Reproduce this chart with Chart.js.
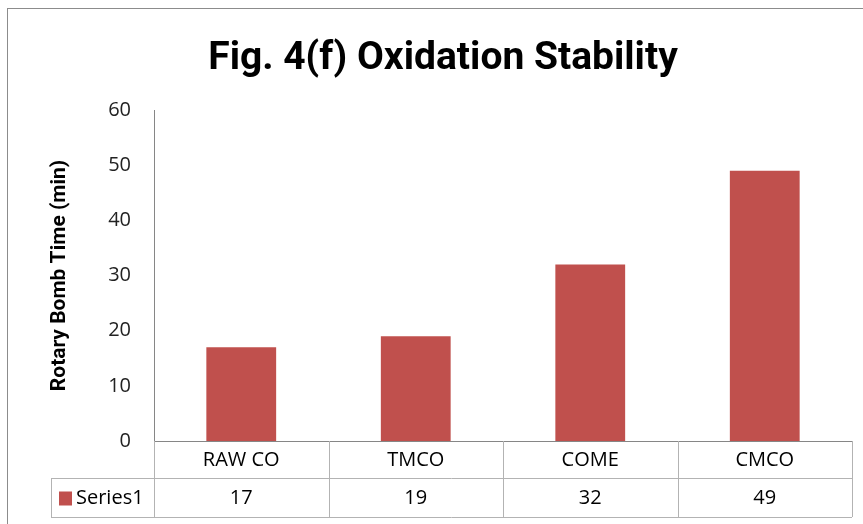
<!DOCTYPE html>
<html>
<head>
<meta charset="utf-8">
<script src="https://cdn.jsdelivr.net/npm/chart.js@4/dist/chart.umd.min.js"></script>
<style>
  html, body { margin: 0; padding: 0; background: #fff; overflow: hidden; }
  #frame { position: absolute; left: 7px; top: 8px; width: 880px; height: 540px; border: 1px solid #8c8c8c; }
  #wrap { position: absolute; left: 0; top: 0; width: 863px; height: 524px; }
</style>
</head>
<body>
<div id="frame"></div>
<div id="wrap"><canvas id="grafico"></canvas></div>
<script>
const categorias = ['RAW CO', 'TMCO', 'COME', 'CMCO'];
const valores = [17, 19, 32, 49];
const nomeSerie = 'Series1';
const ticksY = [0, 10, 20, 30, 40, 50, 60];
const titulo = 'Fig. 4(f) Oxidation Stability';

const corBarra = '#C0504D';
const fonte = "'Open Sans', sans-serif";

// título centrado na moldura inteira (não só na área do gráfico)
const tituloPlugin = {
    id: 'tituloFig',
    afterDraw(chart) {
        const ctx = chart.ctx;
        ctx.save();
        ctx.fillStyle = '#000';
        ctx.font = "bold 39px 'Roboto', sans-serif";
        ctx.textAlign = 'center';
        ctx.textBaseline = 'alphabetic';
        ctx.fillText(titulo, 443, 69);
        ctx.restore();
    }
};

// tabela de dados abaixo do eixo x (categorias + valores + legenda)
const tabelaPlugin = {
    id: 'tabelaDados',
    afterDraw(chart) {
        const ctx = chart.ctx;
        const x = chart.scales.x;
        const area = chart.chartArea;
        const n = categorias.length;
        const passo = (area.right - area.left) / n;
        const y0 = area.bottom;
        const y1 = y0 + 37;
        const y2 = y0 + 76;
        const esq = 51;

        ctx.save();
        ctx.strokeStyle = '#b3b3b3';
        ctx.lineWidth = 1;
        ctx.beginPath();
        // linhas horizontais
        ctx.moveTo(esq, y1 + 0.5); ctx.lineTo(area.right, y1 + 0.5);
        ctx.moveTo(esq, y2 + 0.5); ctx.lineTo(area.right, y2 + 0.5);
        // verticais
        for (let i = 0; i <= n; i++) {
            const px = Math.round(area.left + passo * i) + 0.5;
            ctx.moveTo(px, y0); ctx.lineTo(px, y2);
        }
        ctx.moveTo(esq + 0.5, y1); ctx.lineTo(esq + 0.5, y2);
        ctx.stroke();

        ctx.fillStyle = '#000';
        ctx.font = '20px ' + fonte;
        ctx.textAlign = 'center';
        ctx.textBaseline = 'middle';
        categorias.forEach((c, i) => {
            const cx = x.getPixelForValue(i);
            ctx.fillText(c, cx, (y0 + y1) / 2 + 1);
            ctx.fillText(String(valores[i]), cx, (y1 + y2) / 2 + 1);
        });

        // legenda
        ctx.fillStyle = corBarra;
        ctx.fillRect(59, (y1 + y2) / 2 - 6, 13, 14);
        ctx.fillStyle = '#000';
        ctx.textAlign = 'left';
        ctx.fillText(nomeSerie, 76, (y1 + y2) / 2 + 1);
        ctx.restore();
    }
};

new Chart(document.getElementById('grafico'), {
    type: 'bar',
    data: {
        labels: categorias,
        datasets: [{ label: nomeSerie, data: valores, backgroundColor: corBarra, categoryPercentage: 1, barPercentage: 0.4 }]
    },
    options: {
        responsive: true,
        maintainAspectRatio: false,
        animation: false,
        layout: { padding: { left: 0, right: 11, top: 110, bottom: 75 } },
        plugins: {
            legend: { display: false },
            tooltip: { enabled: false },
            title: { display: false }
        },
        scales: {
            x: {
                grid: { display: false },
                border: { display: true, color: '#868686' },
                ticks: { display: false }
            },
            y: {
                min: 0,
                max: 60,
                afterBuildTicks: s => { s.ticks = ticksY.map(v => ({ value: v })); },
                afterFit: s => { s.width = 154; },
                grid: { display: false },
                border: { display: true, color: '#868686' },
                ticks: { color: '#222', padding: 15, font: { family: fonte, size: 20 } },
                title: {
                    display: true,
                    text: 'Rotary Bomb Time (min)',
                    color: '#000',
                    font: { family: "'Roboto', sans-serif", size: 21, weight: 'bold' },
                    padding: { top: 47, bottom: 0 }
                }
            }
        }
    },
    plugins: [tituloPlugin, tabelaPlugin]
});
</script>
</body>
</html>
